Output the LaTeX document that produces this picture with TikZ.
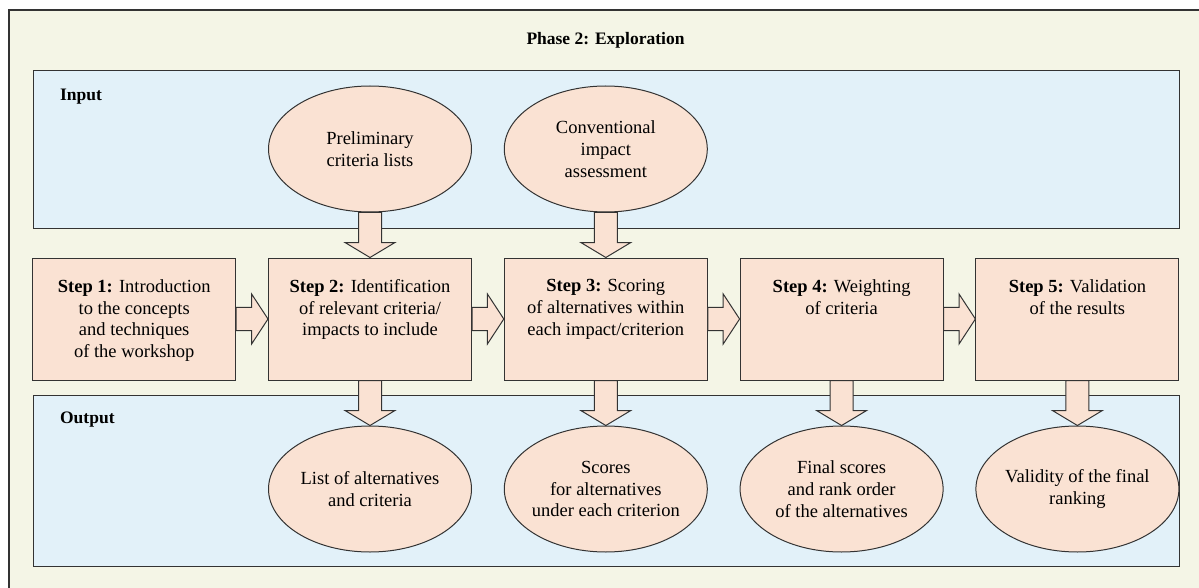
\documentclass[tikz,border=0pt]{standalone}
\usepackage{fontspec}
\setmainfont{Liberation Serif}
\usepackage{tikz}
\usetikzlibrary{shapes}
\usetikzlibrary{calc}
\definecolor{cream}{HTML}{F4F5E6}
\definecolor{panelblue}{HTML}{E2F1F9}
\definecolor{salmon}{HTML}{FAE2D3}
\definecolor{edgegray}{HTML}{333333}
\tikzset{
  every node/.style={font=\fontsize{18.5pt}{21.7pt}\selectfont},
  panel/.style={draw=edgegray, fill=panelblue, line width=1pt},
  stepbox/.style={draw=edgegray, fill=salmon, line width=1pt,
    minimum width=203pt, minimum height=122pt, inner sep=0pt,
    label={[steptext]north:{#1}}},
  steptext/.style={anchor=north, align=center, yshift=-18.5pt},
  blob/.style={ellipse, draw=edgegray, fill=salmon, line width=1pt,
    minimum width=203pt, minimum height=126pt, inner sep=-6pt, align=center},
  blockarrow/.style={draw=edgegray, fill=salmon, line width=1pt},
  panellabel/.style={anchor=west, font=\fontsize{17.5pt}{21pt}\selectfont\bfseries}
}
\newcommand{\downblock}[2]{%
  \draw[blockarrow] let \p1=(#1.south), \p2=(#2.north) in
    (\x2-11.5pt,\y1) -- (\x2-11.5pt,\y2+15pt) -- (\x2-25pt,\y2+15pt) -- (\x2,\y2)
    -- (\x2+25pt,\y2+15pt) -- (\x2+11.5pt,\y2+15pt) -- (\x2+11.5pt,\y1) -- cycle;}
\newcommand{\rightblock}[2]{%
  \draw[blockarrow] let \p1=(#1.east), \p2=(#2.west) in
    (\x1,\y1+11.7pt) -- (\x2-16.4pt,\y1+11.7pt) -- (\x2-16.4pt,\y1+25pt) -- (\x2,\y1)
    -- (\x2-16.4pt,\y1-25pt) -- (\x2-16.4pt,\y1-11.7pt) -- (\x1,\y1-11.7pt) -- cycle;}

\begin{document}
\begin{tikzpicture}[x=1pt,y=-1pt]
  \useasboundingbox (0,0) rectangle (1199,588);
  \fill[cream] (8.8,10) rectangle (1199,588);
  \draw[edgegray, line width=1.5pt] (8.8,588) -- (8.8,10) -- (1199,10);
  \node[font=\fontsize{17.5pt}{21pt}\selectfont\bfseries] (title) at (605.5,40) {Phase 2: Exploration};

  \draw[panel] (33,71) rectangle (1179,228);
  \draw[panel] (33,395.3) rectangle (1179,566.7);
  \node[panellabel] (inlab) at (56.6,96.7) {Input};
  \node[panellabel] (outlab) at (56.6,420) {Output};

  % input
  \node[blob] (pre) at (370,149) {Preliminary\\criteria lists};
  \node[blob] (conv) at (605.8,149) {Conventional\\impact\\assessment};

  % steps
  \node[stepbox={\textbf{Step 1:} Introduction\\to the concepts\\and techniques\\of the workshop}] (s1) at (134.2,319) {};
  \node[stepbox={\textbf{Step 2:} Identification\\of relevant criteria/\\impacts to include}] (s2) at (370,319) {};
  \node[stepbox={\textbf{Step 3:} Scoring\\of alternatives within\\each impact/criterion}] (s3) at (605.8,319) {};
  \node[stepbox={\textbf{Step 4:} Weighting\\of criteria}] (s4) at (841.6,319) {};
  \node[stepbox={\textbf{Step 5:} Validation\\of the results}] (s5) at (1077.4,319) {};

  % output
  \node[blob] (o2) at (370,489) {List of alternatives\\and criteria};
  \node[blob] (o3) at (605.8,489) {Scores\\for alternatives\\under each criterion};
  \node[blob] (o4) at (841.6,489) {Final scores\\and rank order\\of the alternatives};
  \node[blob] (o5) at (1077.4,489) {Validity of the final\\ranking};

  \downblock{pre}{s2}
  \downblock{conv}{s3}
  \foreach \a/\b in {s2/o2,s3/o3,s4/o4,s5/o5} {\downblock{\a}{\b}}
  \foreach \a/\b in {s1/s2,s2/s3,s3/s4,s4/s5} {\rightblock{\a}{\b}}
\end{tikzpicture}
\end{document}
